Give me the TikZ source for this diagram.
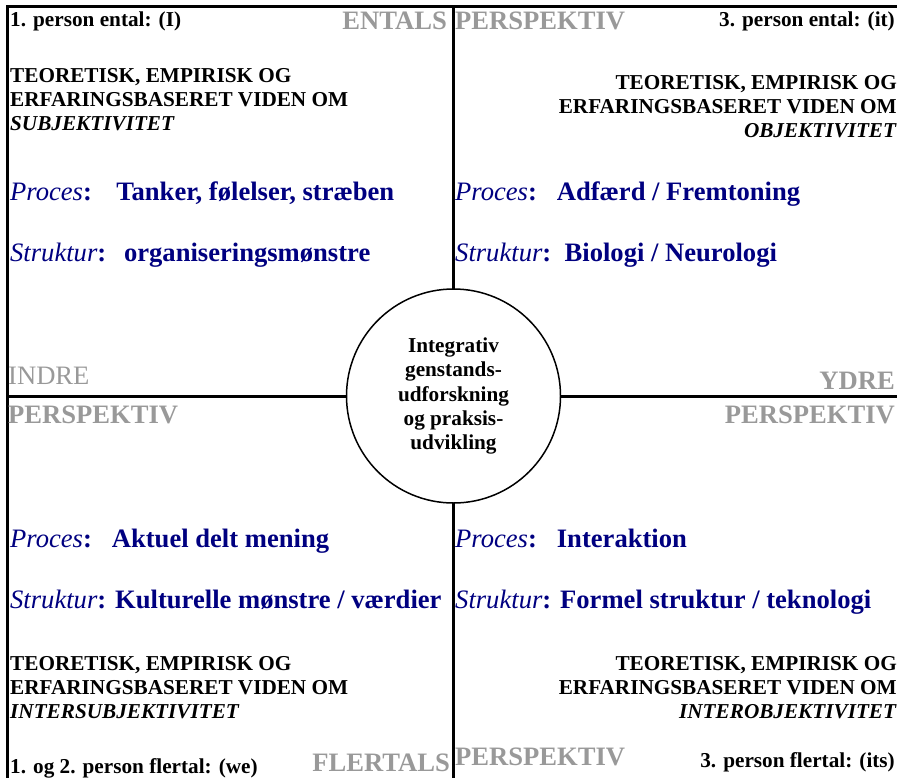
\documentclass[tikz,border=0pt]{standalone}
\usepackage{fontspec}
\setmainfont{Liberation Serif}
\usetikzlibrary{calc}
\definecolor{navy}{RGB}{0,0,128}
\definecolor{lysgraa}{RGB}{153,153,153}

\begin{document}
\begin{tikzpicture}[x=1bp,y=-1bp,
  lille/.style={font=\fontsize{21.3}{24}\bfseries\selectfont,inner sep=0pt},
  graa/.style={font=\fontsize{26.7}{30}\bfseries\selectfont,text=lysgraa,inner sep=0pt},
  blaa/.style={font=\fontsize{26.7}{30}\bfseries\selectfont,text=navy,inner sep=0pt},
  viden/.style={lille,align=left},
  ramme/.style={line width=3bp}]
\useasboundingbox (0,0) rectangle (897,778);

\coordinate (tl) at (7.5,6.5);
\coordinate (tr) at (897,6.5);
\coordinate (bl) at (7.5,778);
\coordinate (mt) at (453.5,6.5);
\coordinate (mb) at (453.5,778);
\coordinate (ml) at (7.5,396);
\coordinate (mr) at (897,396);

\draw[ramme] (bl) -- (tl) -- (tr);
\draw[line width=2.7bp] (mt) -- (mb);

% cirklen i midten
\node[circle,draw,line width=1.5bp,fill=white,minimum size=214bp,inner sep=0pt,
  lille,align=center] (c) at (453.5,396)
  {Integrativ\\[0.5bp]genstands-\\[0.5bp]udforskning\\[0.5bp]og praksis-\\[0.5bp]udvikling};
\draw[ramme] (ml) -- (c.west);
\draw[ramme] (c.east) -- (mr);

% oeverst til venstre
\node[lille,anchor=base west] (p1) at (10,27) {1. person ental: (I)};
\node[graa,anchor=base east] (ental) at (447,30) {ENTALS};
\node[viden,anchor=base west] (v1) at (10,130) {TEORETISK, EMPIRISK OG\\ERFARINGSBASERET VIDEN OM\\\textit{SUBJEKTIVITET}};
\node[blaa,anchor=base west] (pr1) at (10,200) {\textit{\mdseries Proces}:~~~\,Tanker, følelser, stræben};
\node[blaa,anchor=base west] (st1) at (10,261) {\textit{\mdseries Struktur}:~~\,organiseringsmønstre};
\node[graa,anchor=base west,font=\fontsize{26.7}{30}\selectfont] (indre) at (8,384) {INDRE};
\node[graa,anchor=base west] (pv1) at (8,423) {PERSPEKTIV};

% oeverst til hoejre
\node[graa,anchor=base west] (pv2) at (455,30) {PERSPEKTIV};
\node[lille,anchor=base east] (p3) at (895,27) {3. person ental: (it)};
\node[viden,align=right,anchor=base east] (v2) at (897,137) {TEORETISK, EMPIRISK OG\\ERFARINGSBASERET VIDEN OM\\\textit{OBJEKTIVITET}};
\node[blaa,anchor=base west] (pr2) at (455,200) {\textit{\mdseries Proces}:~~~Adfærd / Fremtoning};
\node[blaa,anchor=base west] (st2) at (455,261) {\textit{\mdseries Struktur}:~~Biologi / Neurologi};
\node[graa,anchor=base east] (ydre) at (895,389) {YDRE};
\node[graa,anchor=base east] (pv3) at (895,423) {PERSPEKTIV};

% nederst til venstre
\node[blaa,anchor=base west] (pr3) at (10,547) {\textit{\mdseries Proces}:~~~Aktuel delt mening};
\node[blaa,anchor=base west] (st3) at (10,608) {\textit{\mdseries Struktur}: Kulturelle mønstre / værdier};
\node[viden,anchor=base west] (v3) at (10,718) {TEORETISK, EMPIRISK OG\\ERFARINGSBASERET VIDEN OM\\\textit{INTERSUBJEKTIVITET}};
\node[lille,anchor=base west] (p2) at (10,773) {1. og 2. person flertal: (we)};
\node[graa,anchor=base east] (flertal) at (450,771) {FLERTALS};

% nederst til hoejre
\node[blaa,anchor=base west] (pr4) at (455,547) {\textit{\mdseries Proces}:~~~Interaktion};
\node[blaa,anchor=base west] (st4) at (455,608) {\textit{\mdseries Struktur}: Formel struktur / teknologi};
\node[viden,align=right,anchor=base east] (v4) at (897,718) {TEORETISK, EMPIRISK OG\\ERFARINGSBASERET VIDEN OM\\\textit{INTEROBJEKTIVITET}};
\node[graa,anchor=base west] (pv4) at (455,765) {PERSPEKTIV};
\node[lille,anchor=base east] (p4) at (895,767) {3. person flertal: (its)};

\end{tikzpicture}
\end{document}
